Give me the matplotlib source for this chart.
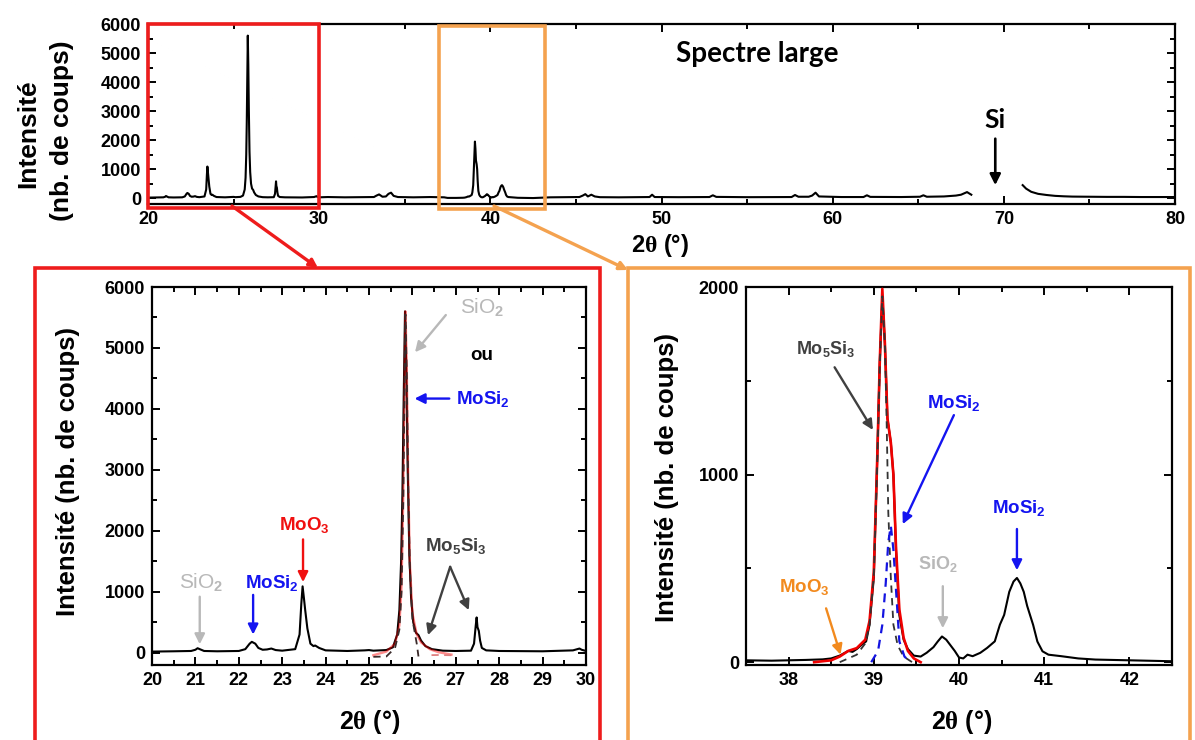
import matplotlib
matplotlib.use('Agg')
import matplotlib.pyplot as plt
from matplotlib.patches import Rectangle, FancyArrowPatch
from matplotlib.ticker import MultipleLocator

plt.rcParams['font.family'] = ['Liberation Sans', 'DejaVu Sans']
plt.rcParams['font.weight'] = 'bold'
plt.rcParams['mathtext.fontset'] = 'custom'
plt.rcParams['mathtext.rm'] = 'Liberation Serif'
plt.rcParams['mathtext.it'] = 'Liberation Sans:italic'
plt.rcParams['mathtext.bf'] = 'Liberation Sans:bold'

# ---------------- data ----------------
# 20-30 deg region (bottom-left panel, also part of wide spectrum)
zone1_x = [20.0, 20.5, 20.9, 21.0, 21.05, 21.1, 21.2, 21.5, 22.0, 22.15, 22.25, 22.3, 22.38,
           22.45, 22.55, 22.65, 22.75, 22.85, 23.0, 23.3, 23.4, 23.44, 23.47, 23.5, 23.53,
           23.58, 23.65, 23.72, 23.76, 23.85, 24.0, 24.5, 24.9, 25.0, 25.1, 25.4, 25.55,
           25.65, 25.70, 25.74, 25.77, 25.80, 25.83, 25.86, 25.89, 25.93, 25.97, 26.02,
           26.08, 26.14, 26.2, 26.3, 26.45, 26.7, 27.0, 27.35, 27.42, 27.46, 27.48, 27.5,
           27.53, 27.56, 27.6, 27.7, 28.0, 29.0, 29.7, 29.8, 29.85, 29.9, 30.0]
zone1_y = [20, 25, 30, 50, 75, 60, 30, 25, 30, 60, 150, 180, 150,
           80, 50, 55, 70, 45, 35, 60, 300, 800, 1090, 900, 700,
           400, 150, 110, 120, 80, 40, 30, 40, 45, 35, 45, 90,
           300, 700, 1500, 2600, 4200, 5600, 4600, 3100, 1600, 900, 500,
           330, 290, 200, 110, 60, 35, 30, 35, 150, 450, 580, 420,
           360, 200, 80, 40, 30, 25, 40, 60, 70, 50, 30]

# 30-37.5 deg (wide spectrum only)
zone2_x = [30.5, 31.5, 32.5, 33.2, 33.35, 33.5, 33.7, 33.9, 34.05, 34.2, 34.35, 34.6, 35.5, 36.5, 37.3]
zone2_y = [40, 30, 35, 40, 90, 130, 50, 60, 150, 190, 80, 40, 30, 40, 30]

# 37.5-42.5 deg region (bottom-right panel, also part of wide spectrum)
zone3_x = [37.5, 37.8, 38.0, 38.2, 38.4, 38.5, 38.6, 38.7, 38.75, 38.8, 38.85, 38.91, 38.95,
           39.0, 39.04, 39.07, 39.1, 39.13, 39.16, 39.2, 39.23, 39.26, 39.3, 39.35, 39.4,
           39.47, 39.55, 39.62, 39.7, 39.75, 39.8, 39.85, 39.9, 39.95, 40.0, 40.05, 40.1,
           40.16, 40.25, 40.33, 40.42, 40.48, 40.53, 40.59, 40.64, 40.68, 40.72, 40.76, 40.8,
           40.87, 40.92, 40.98, 41.05, 41.2, 41.4, 41.6, 41.8, 42.0, 42.2, 42.4, 42.5]
zone3_y = [10, 8, 10, 12, 15, 20, 35, 60, 55, 70, 90, 111, 200,
           450, 1080, 1600, 1950, 1700, 1300, 1170, 1000, 600, 250, 120, 70,
           35, 30, 50, 80, 110, 137, 120, 90, 60, 25, 20, 40,
           32, 50, 76, 111, 200, 252, 375, 430, 449, 420, 375, 300,
           199, 110, 58, 40, 32, 20, 14, 12, 10, 8, 6, 5]

# 42.5-68.1 deg (wide spectrum only)
zone4_x = [43.5, 44.5, 45.2, 45.4, 45.55, 45.7, 45.9, 46.1, 46.4, 47.5, 48.5, 49.3, 49.45,
           49.6, 51.0, 52.8, 53.0, 53.2, 55.0, 57.6, 57.8, 58.0, 58.6, 58.8, 59.0, 59.2,
           60.5, 61.8, 62.0, 62.2, 64.0, 65.1, 65.3, 65.5, 66.5, 67.2, 67.5, 67.7, 67.85, 68.1]
zone4_y = [30, 35, 40, 90, 140, 60, 120, 60, 35, 30, 35, 40, 120,
           40, 35, 40, 100, 45, 35, 40, 110, 50, 50, 90, 190, 60,
           40, 40, 100, 45, 40, 50, 100, 50, 60, 90, 120, 170, 210, 120]

# Si substrate peak tail (after masked region)
si_x = [71.1, 71.3, 71.6, 72.0, 72.5, 73.0, 73.5, 74.0, 75.0, 76.0, 77.0, 78.0, 79.0, 80.0]
si_y = [450, 330, 220, 150, 110, 80, 65, 55, 50, 45, 45, 40, 40, 40]

# fits, 20-30 deg panel
fit1_x = [25.1, 25.4, 25.6, 25.7, 25.75, 25.79, 25.82, 25.84, 25.87, 25.9, 25.94, 26.0, 26.1, 26.2, 26.4, 26.6, 26.9]
fit1_y = [-40, 20, 150, 450, 1100, 2600, 4500, 5600, 4700, 3000, 1500, 650, 300, 170, 60, 10, -30]
comp1_x = [25.1, 25.4, 25.6, 25.7, 25.75, 25.79, 25.82, 25.84, 25.87, 25.9, 25.94, 26.0, 26.1, 26.14]
comp1_y = [-66, -60, 80, 380, 1000, 2500, 4400, 5550, 4600, 2900, 1400, 550, 150, -60]
comp2_x = [26.44, 26.6, 26.75, 26.91]
comp2_y = [-38, -36, -38, -40]

# fits, 37.5-42.5 deg panel
fit3_x = [38.3, 38.5, 38.6, 38.7, 38.8, 38.9, 38.95, 39.0, 39.04, 39.07, 39.1, 39.13, 39.16,
          39.2, 39.23, 39.26, 39.3, 39.35, 39.4, 39.47, 39.55]
fit3_y = [0, 10, 30, 60, 75, 120, 220, 480, 1080, 1600, 1990, 1700, 1300,
          1170, 1000, 620, 280, 130, 60, 20, 0]
mo5si3_x = [38.6, 38.8, 38.9, 38.95, 39.0, 39.04, 39.07, 39.1, 39.13, 39.15, 39.17, 39.2, 39.23, 39.28, 39.35, 39.45]
mo5si3_y = [0, 40, 100, 200, 460, 1050, 1580, 1950, 1700, 1300, 800, 450, 200, 90, 30, 0]
mosi2_x = [38.97, 39.05, 39.1, 39.14, 39.17, 39.2, 39.23, 39.27, 39.3, 39.36, 39.43]
mosi2_y = [0, 60, 199, 420, 640, 727, 600, 320, 111, 30, 0]

# ---------------- figure ----------------
W, H = 1195, 740
fig = plt.figure(figsize=(W / 100, H / 100), dpi=100)


def ax_px(l, r, t, b):
    return fig.add_axes([l / W, 1 - b / H, (r - l) / W, (b - t) / H])


def style(ax, xmaj, xmin, ymaj, ymin, fs):
    ax.xaxis.set_major_locator(MultipleLocator(xmaj))
    ax.xaxis.set_minor_locator(MultipleLocator(xmin))
    ax.yaxis.set_major_locator(MultipleLocator(ymaj))
    ax.yaxis.set_minor_locator(MultipleLocator(ymin))
    ax.tick_params(which='both', direction='in', top=True, right=True, width=1.4,
                   labelsize=fs, pad=5)
    ax.tick_params(which='major', length=6)
    ax.tick_params(which='minor', length=3.5)
    for s in ax.spines.values():
        s.set_linewidth(1.6)


BLUE = '#1414F0'
RED = '#F01010'
GREY = '#B8B8B8'
DGREY = '#404040'
ORANGE_TXT = '#F28A1E'
ORANGE_BOX = '#F4A24F'
RED_BOX = '#EE1C1C'
XLABEL = r'2$\mathrm{\theta}$ (°)'


def label_arrow(ax, text, xy_text, tail, head, color, fs=13.5, weight='bold'):
    ax.text(xy_text[0], xy_text[1], text, color=color, fontsize=fs, ha='center',
            va='center', fontweight=weight)
    if tail is not None:
        ax.annotate('', xy=head, xytext=tail,
                    arrowprops=dict(arrowstyle='-|>', color=color, lw=1.7,
                                    mutation_scale=15, shrinkA=0, shrinkB=0))


# ---- top wide spectrum ----
ax_top = ax_px(148, 1175, 24, 204)
wide_x = zone1_x + zone2_x + zone3_x + zone4_x
wide_y = zone1_y + zone2_y + zone3_y + zone4_y
ax_top.plot(wide_x, wide_y, color='black', lw=1.5)
ax_top.plot(si_x, si_y, color='black', lw=1.5)
ax_top.set_xlim(20, 80)
ax_top.set_ylim(-200, 6000)
style(ax_top, 10, 5, 1000, 500, 13)
ax_top.text(55.6, 4950, 'Spectre large', fontsize=20, fontweight='bold',
            family=['Lato', 'DejaVu Sans'], ha='center', va='center')
ax_top.text(69.5, 2700, 'Si', fontsize=19, fontweight='bold',
            family=['Lato', 'DejaVu Sans'], ha='center', va='center')
ax_top.annotate('', xy=(69.5, 450), xytext=(69.5, 2050),
                arrowprops=dict(arrowstyle='-|>', color='black', lw=1.9,
                                mutation_scale=16, shrinkA=0, shrinkB=0))
xt = ax_top.get_xaxis_transform()
ax_top.add_patch(Rectangle((20, -0.02), 10, 1.02, transform=xt, fill=False,
                           ec=RED_BOX, lw=2.6, clip_on=False, zorder=5))
ax_top.add_patch(Rectangle((37.0, -0.025), 6.2, 1.015, transform=xt, fill=False,
                           ec=ORANGE_BOX, lw=2.6, clip_on=False, zorder=5))
fig.text(28 / W, 1 - 134 / H, 'Intensité', rotation=90, fontsize=19,
         fontweight='bold', ha='center', va='center')
fig.text(62 / W, 1 - 131 / H, '(nb. de coups)', rotation=90, fontsize=19,
         fontweight='bold', ha='center', va='center')
fig.text(660 / W, 1 - 246 / H, XLABEL, fontsize=17, fontweight='bold',
         ha='center', va='center')

# ---- bottom-left zoom 20-30 ----
ax_l = ax_px(152, 586, 287, 665)
ax_l.plot(zone1_x, zone1_y, color='black', lw=1.5, zorder=2)
ax_l.plot(fit1_x, fit1_y, color='red', lw=1.7, alpha=0.45, zorder=3)
ax_l.plot(comp1_x, comp1_y, color='#3a2a2a', lw=1.3, ls=(0, (4, 3)), zorder=4)
ax_l.plot(comp2_x, comp2_y, color='#e08080', lw=1.3, ls=(0, (4, 3)), zorder=4)
ax_l.set_xlim(20, 30)
ax_l.set_ylim(-200, 6000)
style(ax_l, 1, 0.5, 1000, 500, 13)
ax_l.set_xticks(range(20, 31))

label_arrow(ax_l, 'SiO$_\\mathbf{2}$', (21.13, 1150), (21.1, 920), (21.1, 140), GREY, 15, 'normal')
label_arrow(ax_l, r'MoSi$_\mathbf{2}$', (22.77, 1150), (22.33, 950), (22.33, 300), BLUE, 13.5)
label_arrow(ax_l, r'MoO$_\mathbf{3}$', (23.5, 2090), (23.48, 1860), (23.48, 1160), RED, 13.5)
label_arrow(ax_l, 'SiO$_\\mathbf{2}$', (27.6, 5650), (26.77, 5540), (26.06, 4930), GREY, 15, 'normal')
label_arrow(ax_l, 'ou', (27.6, 4880), None, None, 'black', 13.5)
label_arrow(ax_l, r'MoSi$_\mathbf{2}$', (27.62, 4170), (26.85, 4170), (26.05, 4170), BLUE, 13.5)
label_arrow(ax_l, r'Mo$_\mathbf{5}$Si$_\mathbf{3}$', (27.0, 1760), (26.87, 1410), (26.36, 290), DGREY, 13.5)
ax_l.annotate('', xy=(27.3, 700), xytext=(26.87, 1410),
              arrowprops=dict(arrowstyle='-|>', color=DGREY, lw=1.7,
                              mutation_scale=15, shrinkA=0, shrinkB=0))
fig.text(68 / W, 1 - 472 / H, 'Intensité (nb. de coups)', rotation=90, fontsize=18.5,
         fontweight='bold', ha='center', va='center')
fig.text(370 / W, 1 - 722 / H, XLABEL, fontsize=18, fontweight='bold',
         ha='center', va='center')

# ---- bottom-right zoom 37.5-42.5 ----
ax_r = ax_px(746, 1172, 287, 665)
ax_r.plot(zone3_x, zone3_y, color='black', lw=1.5, zorder=2)
ax_r.plot(fit3_x, fit3_y, color='#F00000', lw=1.9, zorder=3)
ax_r.plot(mo5si3_x, mo5si3_y, color='#333333', lw=1.3, ls=(0, (4, 3)), zorder=4)
ax_r.plot(mosi2_x, mosi2_y, color='#1414E0', lw=1.6, ls=(0, (4, 3)), zorder=4)
ax_r.set_xlim(37.5, 42.5)
ax_r.set_ylim(-15, 2000)
style(ax_r, 1, 0.5, 1000, 500, 13)

label_arrow(ax_r, r'Mo$_\mathbf{5}$Si$_\mathbf{3}$', (38.44, 1669), (38.54, 1572), (38.99, 1238), DGREY, 13)
label_arrow(ax_r, r'MoSi$_\mathbf{2}$', (39.94, 1379), (39.94, 1317), (39.34, 736), BLUE, 13.5)
label_arrow(ax_r, r'MoSi$_\mathbf{2}$', (40.70, 824), (40.68, 710), (40.68, 490), BLUE, 13.5)
label_arrow(ax_r, r'SiO$_\mathbf{2}$', (39.75, 525), (39.81, 405), (39.81, 181), GREY, 13)
label_arrow(ax_r, r'MoO$_\mathbf{3}$', (38.18, 401), (38.44, 287), (38.61, 40), ORANGE_TXT, 13.5)
fig.text(667 / W, 1 - 477 / H, 'Intensité (nb. de coups)', rotation=90, fontsize=18.5,
         fontweight='bold', ha='center', va='center')
fig.text(962 / W, 1 - 722 / H, XLABEL, fontsize=18, fontweight='bold',
         ha='center', va='center')

# ---- frames and connectors ----
fig.add_artist(Rectangle((35 / W, -0.02), (600 - 35) / W, (1 - 268 / H) + 0.02,
                         transform=fig.transFigure, fill=False, ec=RED_BOX, lw=2.6))
fig.add_artist(Rectangle((628 / W, -0.02), (1190 - 628) / W, (1 - 268 / H) + 0.02,
                         transform=fig.transFigure, fill=False, ec=ORANGE_BOX, lw=2.6))
fig.add_artist(FancyArrowPatch((232 / W, 1 - 206 / H), (318 / W, 1 - 268 / H),
                               transform=fig.transFigure, arrowstyle='-|>',
                               mutation_scale=12, lw=2.4, color=RED_BOX,
                               shrinkA=0, shrinkB=0))
fig.add_artist(FancyArrowPatch((494 / W, 1 - 206 / H), (628 / W, 1 - 270 / H),
                               transform=fig.transFigure, arrowstyle='-|>',
                               mutation_scale=12, lw=2.4, color=ORANGE_BOX,
                               shrinkA=0, shrinkB=0))

fig.savefig('out.png', dpi=100)
